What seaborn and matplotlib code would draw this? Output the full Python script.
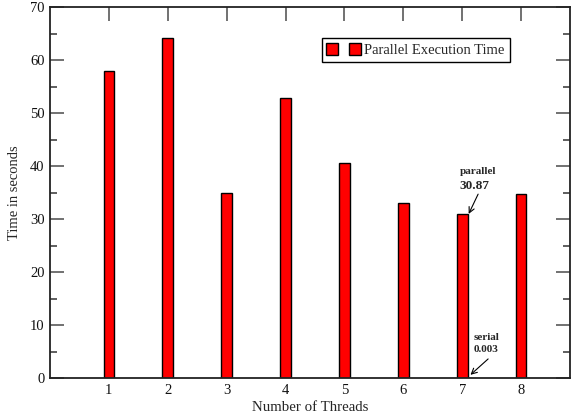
import matplotlib
matplotlib.use('Agg')
import matplotlib.pyplot as plt
from matplotlib.lines import Line2D
from matplotlib.ticker import MultipleLocator
import seaborn as sns

threads = [1, 2, 3, 4, 5, 6, 7, 8]
times = [58.0, 64.1, 34.9, 52.8, 40.6, 33.1, 30.87, 34.7]
serial_time = 0.003

sns.set_style('ticks')
plt.rcParams['font.family'] = ['Liberation Serif', 'DejaVu Serif']

fig = plt.figure(figsize=(5.87, 4.17), dpi=100)
ax = fig.add_axes([0.0852, 0.0935, 0.8858, 0.8895])

sns.barplot(x=threads, y=times, native_scale=True, width=0.18,
            color='#ff0000', edgecolor='black', linewidth=1.0, saturation=1, ax=ax)

ax.set_xlim(0, 8.83)
ax.set_ylim(0, 70)
ax.set_xticks(threads)
ax.set_xticklabels([str(t) for t in threads])
ax.yaxis.set_major_locator(MultipleLocator(10))
ax.yaxis.set_minor_locator(MultipleLocator(5))

for s in ax.spines.values():
    s.set_color('#222222')
    s.set_linewidth(1.3)

ax.tick_params(axis='both', which='major', direction='in', length=10, width=1.3,
               color='#666666', labelsize=10.5, top=True, right=True, labelcolor='#111111', pad=4)
ax.tick_params(axis='y', which='minor', direction='in', length=5, width=1.1,
               color='#333333', right=True)
ax.tick_params(axis='x', which='minor', bottom=False, top=False)

ax.set_xlabel('Number of Threads', fontsize=10.7, labelpad=3)
ax.set_ylabel('Time in seconds', fontsize=10.5, labelpad=6)

handle = Line2D([], [], marker='s', linestyle='none', markerfacecolor='#ff0000',
                markeredgecolor='black', markersize=9)
leg = ax.legend([handle], ['Parallel Execution Time'], numpoints=2,
                loc='upper left', bbox_to_anchor=(0.51, 0.935), fancybox=False,
                framealpha=1, edgecolor='black', fontsize=10.5, borderpad=0.35,
                handletextpad=0.3, handlelength=2.2)
leg.get_frame().set_linewidth(1.0)

# annotations for thread 7
ax.text(6.96, 39.8, 'parallel', fontsize=8, fontweight='bold', ha='left', va='top')
ax.text(6.96, 37.3, f'{times[6]:.2f}', fontsize=9.5, fontweight='bold', ha='left', va='top')
ax.annotate('', xy=(7.11, times[6] + 0.1), xytext=(7.27, 34.7),
            arrowprops=dict(arrowstyle='->', color='black', lw=0.8, shrinkA=0, shrinkB=0))

ax.text(7.2, 8.5, 'serial', fontsize=8, fontweight='bold', ha='left', va='top')
ax.text(7.2, 6.3, f'{serial_time:.3f}', fontsize=8, fontweight='bold', ha='left', va='top')
ax.annotate('', xy=(7.14, 0.6), xytext=(7.44, 3.6),
            arrowprops=dict(arrowstyle='->', color='black', lw=0.8, shrinkA=0, shrinkB=0))

fig.savefig('out.png', dpi=100)
